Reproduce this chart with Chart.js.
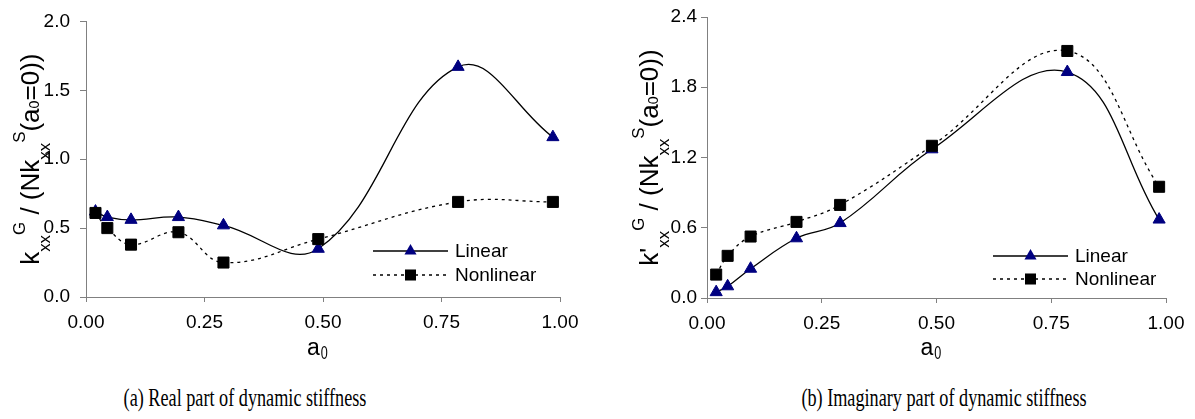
<!DOCTYPE html>
<html>
<head>
<meta charset="utf-8">
<script src="https://cdn.jsdelivr.net/npm/chart.js@4.4.1/dist/chart.umd.min.js"></script>
<style>
  body { margin: 0; background: #fff; width: 1195px; height: 419px; position: relative; overflow: hidden; }
  canvas { position: absolute; top: 0; }
  #realChart { left: 0; }
  #imagChart { left: 600px; }
  .caption {
    position: absolute; top: 385px; white-space: nowrap;
    font-family: "Liberation Serif", "Times New Roman", serif; font-size: 26px; line-height: 26px; color: #000;
    transform: translateX(-50%) scaleX(0.70);
  }
</style>
</head>
<body>
<canvas id="realChart" width="600" height="370"></canvas>
<canvas id="imagChart" width="595" height="370"></canvas>
<div class="caption" style="left:245px">(a) Real part of dynamic stiffness</div>
<div class="caption" style="left:944px">(b) Imaginary part of dynamic stiffness</div>
<script>
// dimensionless frequency a0
const a0 = [0.02, 0.045, 0.095, 0.195, 0.29, 0.49, 0.785, 0.985];

// (a) real part
const realLinear    = [0.62, 0.58, 0.56, 0.58, 0.52, 0.35, 1.67, 1.16];
const realNonlinear = [0.61, 0.50, 0.38, 0.47, 0.25, 0.42, 0.69, 0.69];

// (b) imaginary part
const imagLinear    = [0.05, 0.10, 0.25, 0.51, 0.64, 1.27, 1.93, 0.67];
const imagNonlinear = [0.20, 0.36, 0.525, 0.65, 0.795, 1.30, 2.11, 0.95];

const seriesNames = ['Linear', 'Nonlinear'];
const xTicks = [0, 0.25, 0.5, 0.75, 1];
const realYTicks = [0, 0.5, 1.0, 1.5, 2.0];
const imagYTicks = [0, 0.6, 1.2, 1.8, 2.4];

const realYTitle = [['k','n'],['xx','sub'],['G','sup'],[' / (N','n'],['k','n'],['xx','sub'],['S','sup'],['(a','n'],['0','small'],['=0))','n']];
const imagYTitle = [['k\'','n'],['xx','sub'],['G','sup'],[' / (N','n'],['k','n'],['xx','sub'],['S','sup'],['(a','n'],['0','small'],['=0))','n']];

const FONT = '"Liberation Sans", Arial, sans-serif';
const AXIS = '#808080';

const pts = (ys) => a0.map((x, i) => ({x: x, y: ys[i]}));

function drawRich(ctx, parts, F) {
  const size = {n: F, sub: F * 0.65, sup: F * 0.65, small: F * 0.55};
  const shift = {n: 0, sub: F * 0.42, sup: -F * 0.52, small: 0};
  let total = 0;
  parts.forEach(p => { ctx.font = size[p[1]] + 'px ' + FONT; total += ctx.measureText(p[0]).width; });
  let x = -total / 2;
  parts.forEach(p => {
    ctx.font = size[p[1]] + 'px ' + FONT;
    ctx.fillText(p[0], x, shift[p[1]]);
    x += ctx.measureText(p[0]).width;
  });
}

const decorPlugin = {
  id: 'decor',
  afterDraw(chart, args, opts) {
    const ctx = chart.ctx;
    const area = chart.chartArea;
    ctx.save();
    ctx.fillStyle = '#000';
    ctx.textBaseline = 'alphabetic';
    ctx.textAlign = 'left';
    // y title
    ctx.save();
    ctx.translate(opts.yTitleX, (area.top + area.bottom) / 2);
    ctx.rotate(-Math.PI / 2);
    drawRich(ctx, opts.yTitle, 26);
    ctx.restore();
    // x title a0 (narrow subscript zero)
    const cx = (area.left + area.right) / 2 - 16;
    ctx.font = '23px ' + FONT;
    ctx.fillText('a', cx, 355);
    const aw = ctx.measureText('a').width;
    ctx.save();
    ctx.translate(cx + aw + 1, 359);
    ctx.scale(0.7, 1);
    ctx.font = '18px ' + FONT;
    ctx.fillText('0', 0, 0);
    ctx.restore();
    // legend
    chart.data.datasets.forEach((ds, i) => {
      const y = opts.legendY[i];
      const x1 = opts.legendX, x2 = opts.legendX + 75, xm = (x1 + x2) / 2;
      ctx.save();
      ctx.strokeStyle = ds.borderColor;
      ctx.lineWidth = ds.borderWidth;
      ctx.setLineDash(ds.borderDash || []);
      ctx.beginPath(); ctx.moveTo(x1, y); ctx.lineTo(x2, y); ctx.stroke();
      ctx.setLineDash([]);
      ctx.fillStyle = ds.pointBackgroundColor;
      const r = ds.pointRadius;
      ctx.beginPath();
      if (ds.pointStyle === 'triangle') {
        ctx.moveTo(xm, y - r);
        ctx.lineTo(xm + 0.866 * r, y + 0.5 * r);
        ctx.lineTo(xm - 0.866 * r, y + 0.5 * r);
      } else {
        const s = Math.SQRT1_2 * r;
        ctx.rect(xm - s, y - s, 2 * s, 2 * s);
      }
      ctx.closePath();
      ctx.fill();
      ctx.restore();
      ctx.font = '19px ' + FONT;
      ctx.textBaseline = 'middle';
      ctx.fillText(ds.label, x2 + 7, y + 1);
    });
    ctx.restore();
  }
};

function makeChart(id, linear, nonlinear, yTicks, yWidth, yPad, xHeight, padRight, decor) {
  new Chart(document.getElementById(id), {
    type: 'line',
    data: {
      datasets: [{
        label: seriesNames[0],
        data: pts(linear),
        borderColor: '#000',
        borderWidth: 1.3,
        pointStyle: 'triangle',
        pointRadius: 7,
        pointBackgroundColor: '#000080',
        pointBorderColor: '#000080',
        pointBorderWidth: 1,
        tension: 0.4,
        order: 2
      }, {
        label: seriesNames[1],
        data: pts(nonlinear),
        borderColor: '#000',
        borderWidth: 1.3,
        borderDash: [3, 4],
        pointStyle: 'rect',
        pointRadius: 7.8,
        pointBackgroundColor: '#000',
        pointBorderColor: '#000',
        pointBorderWidth: 1,
        tension: 0.4,
        order: 1
      }]
    },
    options: {
      responsive: false,
      animation: false,
      devicePixelRatio: 1,
      layout: { padding: { left: 0, right: padRight, top: 17, bottom: 0 } },
      scales: {
        x: {
          type: 'linear', min: 0, max: 1,
          afterBuildTicks: (s) => { s.ticks = xTicks.map(v => ({value: v})); },
          afterFit: (s) => { s.height = xHeight; },
          ticks: { color: '#000', font: { family: FONT, size: 19 }, padding: 9, maxRotation: 0,
                   callback: (v) => Number(v).toFixed(2) },
          grid: { drawOnChartArea: false, drawTicks: true, tickLength: 5, color: AXIS },
          border: { color: AXIS, width: 1 }
        },
        y: {
          min: yTicks[0], max: yTicks[yTicks.length - 1],
          afterBuildTicks: (s) => { s.ticks = yTicks.map(v => ({value: v})); },
          afterFit: (s) => { s.width = yWidth; },
          ticks: { color: '#000', font: { family: FONT, size: 19 }, padding: yPad,
                   callback: (v) => Number(v).toFixed(1) },
          grid: { drawOnChartArea: false, drawTicks: true, tickLength: 6, color: AXIS },
          border: { color: AXIS, width: 1 }
        }
      },
      plugins: {
        legend: { display: false },
        tooltip: { enabled: false },
        decor: decor
      }
    },
    plugins: [decorPlugin]
  });
}

makeChart('realChart', realLinear, realNonlinear, realYTicks, 86, 10, 73, 40,
  { yTitle: realYTitle, yTitleX: 39, legendX: 373, legendY: [251, 275] });
makeChart('imagChart', imagLinear, imagNonlinear, imagYTicks, 107, 4, 72, 29,
  { yTitle: imagYTitle, yTitleX: 58, legendX: 393, legendY: [256, 279] });
</script>
</body>
</html>
